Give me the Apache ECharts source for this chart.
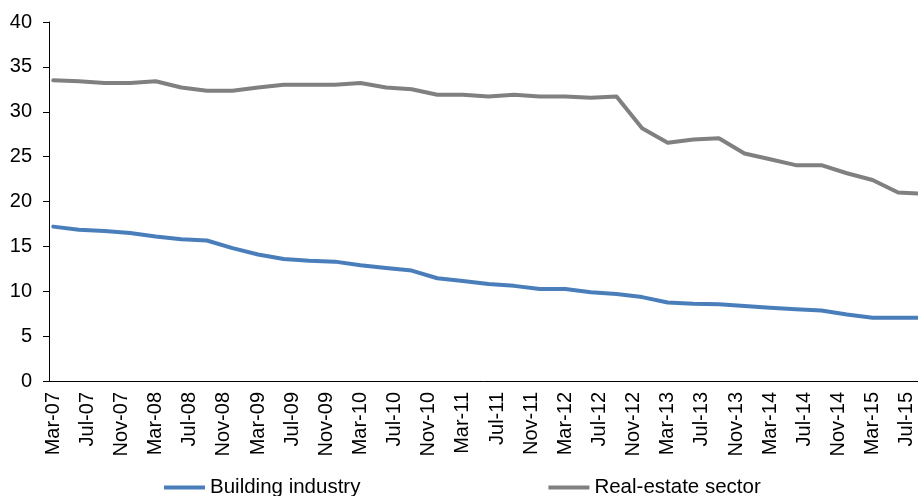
<!DOCTYPE html>
<html><head><meta charset="utf-8">
<script src="https://cdn.jsdelivr.net/npm/echarts@6/dist/echarts.min.js"></script>
<style>html,body{margin:0;padding:0;background:#fff}#c{width:918px;height:496px}</style>
</head><body><div id="c"></div>
<script>
// Quarterly observations
const quarters = [
  'Mar-07','Jun-07','Sep-07','Dec-07',
  'Mar-08','Jun-08','Sep-08','Dec-08',
  'Mar-09','Jun-09','Sep-09','Dec-09',
  'Mar-10','Jun-10','Sep-10','Dec-10',
  'Mar-11','Jun-11','Sep-11','Dec-11',
  'Mar-12','Jun-12','Sep-12','Dec-12',
  'Mar-13','Jun-13','Sep-13','Dec-13',
  'Mar-14','Jun-14','Sep-14','Dec-14',
  'Mar-15','Jun-15','Sep-15'
];
const buildingIndustry = [
  17.2, 16.85, 16.7, 16.5,
  16.1, 15.8, 15.65, 14.8,
  14.1, 13.6, 13.4, 13.3,
  12.9, 12.6, 12.3, 11.45,
  11.15, 10.8, 10.6, 10.25,
  10.25, 9.9, 9.7, 9.35,
  8.75, 8.6, 8.55, 8.35,
  8.15, 8.0, 7.85, 7.4,
  7.05, 7.05, 7.05
];
const realEstateSector = [
  33.5, 33.4, 33.2, 33.2,
  33.4, 32.7, 32.35, 32.35,
  32.7, 33.0, 33.0, 33.0,
  33.2, 32.7, 32.5, 31.9,
  31.9, 31.7, 31.9, 31.7,
  31.7, 31.55, 31.7, 28.15,
  26.55, 26.9, 27.05, 25.35,
  24.7, 24.05, 24.05, 23.15,
  22.4, 21.0, 20.85
];
const seriesNames = ['Building industry', 'Real-estate sector'];
const yTicks = {min: 0, max: 40, interval: 5};

// Monthly category axis Mar-07 .. Sep-15
const monthNames = ['Jan','Feb','Mar','Apr','May','Jun','Jul','Aug','Sep','Oct','Nov','Dec'];
const months = [];
(function(){
  let y = 2007, m = 2;
  while (true) {
    months.push(monthNames[m] + '-' + String(y % 100).padStart(2, '0'));
    if (y === 2015 && m === 8) break;
    m++; if (m === 12) { m = 0; y++; }
  }
})();

const FONT = 'Liberation Sans, Arial, sans-serif';
const chart = echarts.init(document.getElementById('c'), null, {renderer: 'canvas'});
chart.setOption({
  animation: false,
  backgroundColor: '#ffffff',
  grid: {left: 49, top: 22, width: 879, height: 359, containLabel: false, outerBoundsMode: 'none'},
  legend: {
    left: 164, top: 477, padding: 0,
    itemWidth: 41, itemHeight: 4, itemGap: 188,
    icon: 'rect',
    textStyle: {fontFamily: FONT, fontSize: 20.5, color: '#000'},
    data: seriesNames
  },
  xAxis: {
    type: 'category',
    data: months,
    boundaryGap: true,
    axisLine: {lineStyle: {color: '#000', width: 1}},
    axisTick: {interval: 3, length: 6, lineStyle: {color: '#000'}},
    axisLabel: {interval: 3, rotate: 90, margin: 11, fontFamily: FONT, fontSize: 20, color: '#000'},
    splitLine: {show: false}
  },
  yAxis: {
    type: 'value',
    min: yTicks.min, max: yTicks.max, interval: yTicks.interval,
    axisLine: {show: true, lineStyle: {color: '#000', width: 1}},
    axisTick: {show: true, length: 6, lineStyle: {color: '#000'}},
    axisLabel: {margin: 17, fontFamily: FONT, fontSize: 20, color: '#000'},
    splitLine: {show: false}
  },
  series: [
    {
      name: seriesNames[0], type: 'line', symbol: 'none',
      data: quarters.map((q, i) => [q, buildingIndustry[i]]),
      lineStyle: {color: '#4A7EBB', width: 4, cap: 'round', join: 'round'},
      itemStyle: {color: '#4A7EBB'}
    },
    {
      name: seriesNames[1], type: 'line', symbol: 'none',
      data: quarters.map((q, i) => [q, realEstateSector[i]]),
      lineStyle: {color: '#808080', width: 4, cap: 'round', join: 'round'},
      itemStyle: {color: '#808080'}
    }
  ]
});
</script></body></html>
